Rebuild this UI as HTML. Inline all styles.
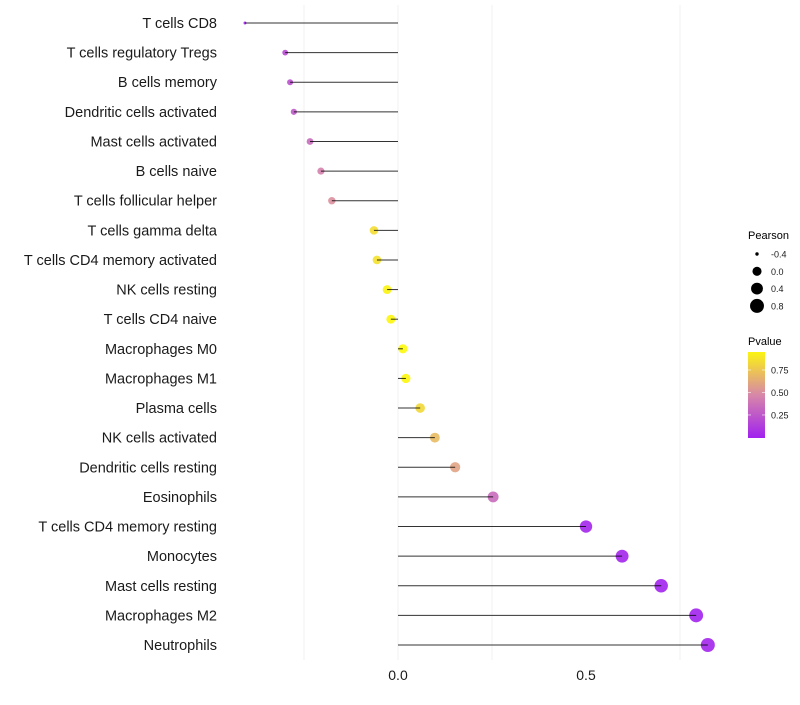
<!DOCTYPE html>
<html><head><meta charset="utf-8"><style>
body{margin:0;background:#fff;font-family:"Liberation Sans",sans-serif}
</style></head><body>
<svg id="chart" width="800" height="700" xmlns="http://www.w3.org/2000/svg"></svg>
<script>
const categories=["T cells CD8","T cells regulatory  Tregs","B cells memory","Dendritic cells activated","Mast cells activated","B cells naive","T cells follicular helper","T cells gamma delta","T cells CD4 memory activated","NK cells resting","T cells CD4 naive","Macrophages M0","Macrophages M1","Plasma cells","NK cells activated","Dendritic cells resting","Eosinophils","T cells CD4 memory resting","Monocytes","Mast cells resting","Macrophages M2","Neutrophils"];
const pearson=[-0.407,-0.30,-0.287,-0.277,-0.234,-0.205,-0.176,-0.064,-0.056,-0.029,-0.019,0.013,0.021,0.059,0.098,0.152,0.253,0.50,0.596,0.70,0.793,0.824];
const pvalue=[0.03,0.2,0.22,0.27,0.35,0.45,0.52,0.85,0.87,0.95,0.96,0.97,0.96,0.83,0.7,0.6,0.35,0.03,0.03,0.02,0.02,0.03];
const xTicks=[0,0.5];
const gridVals=[-0.25,0,0.25,0.75];
const sizeLegend=[-0.4,0.0,0.4,0.8];
const colorTicks=[0.25,0.5,0.75];
const NS="http://www.w3.org/2000/svg";
const svg=document.getElementById('chart');
const x=v=>398+v*376;
const y=i=>23+i*(622/21);
const r=v=>1.17*(1+5*Math.sqrt(Math.max((v+0.41)/1.234,0)));
function lerp(a,b,t){return a.map((c,k)=>Math.round(c+(b[k]-c)*t));}
function col(p){const s=[[0,[160,32,240]],[0.5,[218,140,165]],[1,[255,255,0]]];
 let t=Math.min(Math.max(p,0),1);let c=t<=0.5?lerp(s[0][1],s[1][1],t/0.5):lerp(s[1][1],s[2][1],(t-0.5)/0.5);return `rgb(${c.join(',')})`;}
function el(t,a,txt){const e=document.createElementNS(NS,t);for(const k in a)e.setAttribute(k,a[k]);if(txt!==undefined)e.textContent=txt;svg.appendChild(e);return e;}
gridVals.forEach(v=>{const g=el('line',{x1:x(v),x2:x(v),y1:5,y2:660,stroke:'#f2f2f2','stroke-width':1});

});
categories.forEach((c,i)=>{
 const t=el('text',{x:217,y:y(i)+5,'text-anchor':'end','font-size':14.5,fill:'#1a1a1a'},c);
 
 
 const d=el('circle',{cx:x(pearson[i]),cy:y(i),r:r(pearson[i]),fill:col(pvalue[i]),'fill-opacity':0.9});
 
 
 const l=el('line',{x1:x(0),x2:x(pearson[i]),y1:y(i),y2:y(i),stroke:'#000','stroke-width':1,'stroke-opacity':0.8});
 
 
});
xTicks.forEach(v=>{const t=el('text',{x:x(v),y:680,'text-anchor':'middle','font-size':14,fill:'#1a1a1a'},v.toFixed(1));

});
let t1=el('text',{x:748,y:239,'font-size':11,fill:'#000'},'Pearson');


sizeLegend.forEach((v,k)=>{const cy=254+k*17.3;
 const c=el('circle',{cx:757,cy:cy,r:r(v),fill:'#000'});
 
 
 const t=el('text',{x:771,y:cy+3.5,'font-size':9,fill:'#1a1a1a'},v.toFixed(1));
 
 });
let t2=el('text',{x:748,y:345,'font-size':11,fill:'#000'},'Pvalue');


const defs=el('defs',{});
const lg=document.createElementNS(NS,'linearGradient');lg.setAttribute('id','pg');lg.setAttribute('x1',0);lg.setAttribute('x2',0);lg.setAttribute('y1',1);lg.setAttribute('y2',0);
[0,0.25,0.5,0.75,1].forEach(o=>{const s=document.createElementNS(NS,'stop');s.setAttribute('offset',o);s.setAttribute('stop-color',col(0.005+o*0.945));lg.appendChild(s);});
defs.appendChild(lg);
const bar=el('rect',{x:748,y:352,width:17,height:86,fill:'url(#pg)'});


const cy=p=>437-(p-0.005)/0.945*85;
colorTicks.forEach(p=>{el('line',{x1:748,x2:751,y1:cy(p),y2:cy(p),stroke:'#fff','stroke-opacity':0.6});el('line',{x1:762,x2:765,y1:cy(p),y2:cy(p),stroke:'#fff','stroke-opacity':0.6});
 const t=el('text',{x:771,y:cy(p)+3.5,'font-size':9,fill:'#1a1a1a'},p.toFixed(2));
 
 });
</script>
</body></html>
